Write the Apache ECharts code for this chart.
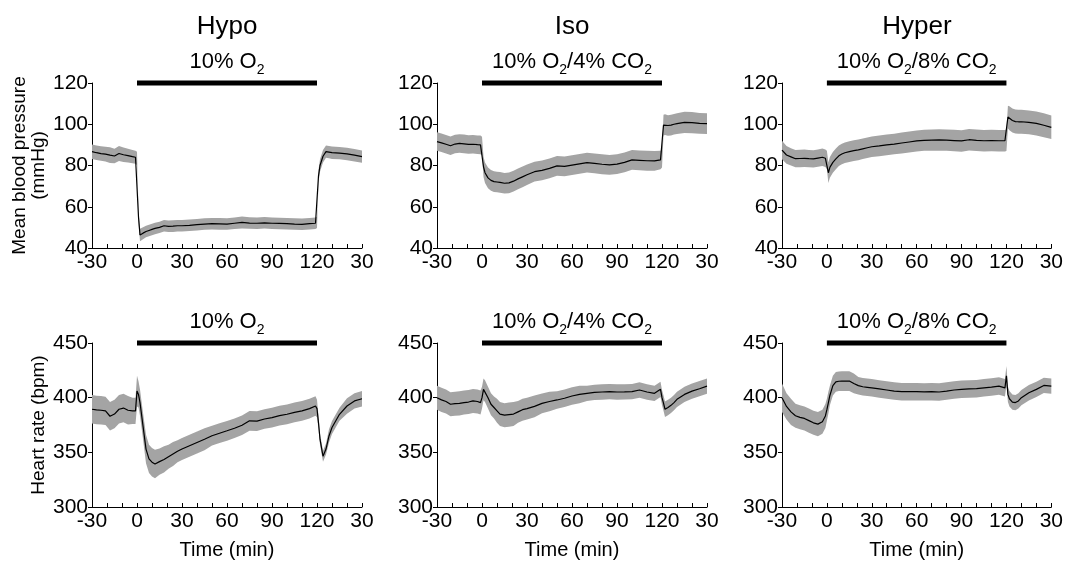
<!DOCTYPE html>
<html>
<head>
<meta charset="utf-8">
<script src="https://cdn.jsdelivr.net/npm/echarts@6/dist/echarts.min.js"></script>
<style>
html,body{margin:0;padding:0;background:#fff}
#main{width:1066px;height:561px}
</style>
</head>
<body>
<div id="main"></div>
<script>
/* time (min) relative to start of gas exposure; 121..150 shown as recovery 0..30 */
var times = [-30,-27,-24,-21,-18,-15,-12,-9,-6,-3,-1,0,1,2,
    4,6,8,10,12,15,18,21,24,27,30,
    35,40,45,50,55,60,65,70,75,80,85,90,95,100,105,110,115,
    119,120,121,122,124,126,128,130,135,140,145,150];

/* mean blood pressure (mmHg) */
var mbpHypo = [86.7,86.2,85.8,85.5,85.0,84.6,85.8,85.2,84.8,84.3,84.0,83.5,55.0,46.3,
    47.2,48.0,48.5,49.0,49.5,50.0,50.8,50.5,50.6,50.8,50.8,
    51.0,51.3,51.6,51.8,51.7,51.6,52.0,52.4,52.1,52.0,52.2,52.0,51.9,51.8,51.6,51.5,51.8,
    52.0,52.5,75.0,80.0,84.5,86.7,86.5,86.2,86.0,85.6,85.0,84.3];
var mbpHypoSem = [3.5,3.5,3.5,3.6,3.8,3.5,3.6,3.5,3.3,3.2,3.2,3.2,3.0,3.0,
    2.9,2.8,2.8,2.8,2.8,2.7,2.8,2.8,2.8,2.8,2.8,
    2.8,2.8,2.8,2.8,2.8,2.8,2.8,2.9,2.8,2.8,2.8,2.8,2.8,2.8,2.8,2.8,2.8,
    2.8,2.8,3.0,3.0,3.0,3.0,3.0,3.0,3.0,3.0,3.0,3.0];

var mbpIso = [91.6,91.0,90.3,89.6,90.4,90.7,90.5,90.2,90.3,90.1,90.0,89.5,79.4,76.5,
    74.0,72.8,72.2,72.0,71.8,71.4,71.6,72.4,73.5,74.5,75.5,
    77.0,77.6,78.6,79.8,79.6,80.2,80.8,81.4,81.0,80.6,80.3,80.7,81.5,82.7,82.5,82.3,82.2,
    82.7,83.5,99.6,99.8,99.4,99.6,100.0,100.3,100.9,100.8,100.4,100.3];
var mbpIsoSem = [4.5,4.5,4.5,4.5,4.5,4.5,4.5,4.5,4.5,4.5,4.5,4.5,5.0,5.0,
    5.0,5.0,5.0,5.0,5.0,5.0,5.0,5.0,5.0,5.0,5.0,
    4.8,4.8,4.8,4.8,4.8,4.8,4.8,4.8,4.8,4.8,4.8,4.8,4.8,4.8,4.8,4.8,4.8,
    4.5,4.5,5.0,5.0,5.0,5.0,5.0,5.0,5.2,5.2,5.0,5.0];

var mbpHyper = [87.5,85.1,84.2,83.3,83.4,83.5,83.3,83.2,83.6,84.0,83.5,82.7,76.5,79.1,
    81.5,83.2,84.7,85.6,86.2,86.7,87.2,87.6,88.1,88.6,89.1,
    89.5,90.0,90.4,90.9,91.4,91.9,92.2,92.3,92.4,92.3,92.1,91.9,92.5,92.2,92.0,92.1,92.0,
    92.0,92.2,103.5,102.9,101.8,101.3,101.2,101.2,100.9,100.4,99.5,98.5];
var mbpHyperSem = [4.5,4.3,4.2,4.2,4.2,4.2,4.2,4.2,4.2,4.2,4.2,4.5,5.0,5.0,
    5.0,5.0,5.0,5.0,5.0,5.0,5.0,5.0,5.0,5.0,5.0,
    5.0,5.0,5.0,5.1,5.1,5.1,5.1,5.1,5.2,5.2,5.2,5.2,5.2,5.2,5.2,5.2,5.2,
    5.2,5.2,5.5,5.8,5.8,5.8,5.8,5.8,5.8,5.8,5.8,5.7];

/* heart rate (bpm) */
var hrHypo = [389.4,388.8,388.5,387.9,383.0,385.0,389.4,390.5,388.5,387.9,387.9,406.0,403.0,395.5,
    374.2,353.0,344.0,341.0,339.4,341.5,343.5,346.0,348.5,351.0,353.0,
    356.0,359.0,362.0,365.2,367.5,369.7,372.0,374.8,378.8,378.5,380.5,381.8,383.5,384.8,386.5,387.9,390.0,
    392.4,390.0,377.0,362.0,346.4,353.0,365.0,372.7,384.8,392.4,397.0,399.0];
var hrHypoSem = [13,13,13,13,13,13,13,13,13,12,12,14,12,12,
    12,13,13,13,13,12,12,11,11,10,10,
    10,10,10,9,9,9,9,9,9,9,9,9,9,9,9,9,9,
    9,8,6,5,5,5,6,6,6,7,7,7];

var hrIso = [400.0,398.0,396.5,394.0,394.5,394.8,395.5,396.0,397.0,396.5,395.5,400.0,407.6,406.0,
    400.0,394.0,391.0,388.0,385.0,384.0,384.5,385.0,387.0,389.0,390.0,
    392.0,394.8,396.5,397.9,399.5,401.5,403.0,404.0,404.8,405.2,405.5,405.2,405.3,405.5,407.0,405.2,404.0,
    407.6,400.0,395.0,389.4,391.0,393.0,395.5,398.5,403.0,406.0,408.2,410.6];
var hrIsoSem = [11,11,11,11,11,11,11,11,11,11,11,10,10,10,
    10,10,10,11,11,11,11,11,10,10,10,
    10,9,9,8,8,8,8,7,7,7,7,7,7,7,7,7,7,
    7,7,7,7,7,7,7,7,7,7,7,7];

var hrHyper = [400.0,392.0,387.0,383.5,382.0,381.0,379.0,377.0,375.8,378.0,383.3,389.0,395.5,402.0,
    411.0,414.5,415.0,415.2,415.2,415.2,413.0,411.0,410.0,409.5,409.0,
    408.0,407.0,406.0,405.5,405.5,405.5,405.3,405.5,405.2,406.0,407.0,407.6,408.0,408.2,409.0,409.7,410.6,
    409.0,420.0,403.0,399.0,396.0,395.5,397.0,400.0,404.5,407.6,411.2,410.6];
var hrHyperSem = [13,12,12,11,11,11,11,11,11,11,11,10,10,9,
    9,9,9,9,9,9,9,8,8,8,8,
    8,8,8,8,8,8,8,8,8,8,8,8,8,8,8,8,8,
    8,9,7,7,7,7,7,7,7,7,7,7];

var groupNames = ['Hypo', 'Iso', 'Hyper'];
var gasLabels = ['10% O{s|2}', '10% O{s|2}/4% CO{s|2}', '10% O{s|2}/8% CO{s|2}'];
var exposure = [0, 120];

var FONT = '"Liberation Sans", Arial, sans-serif';

var chart = echarts.init(document.getElementById('main'));

var panels = [
    {mean: mbpHypo, sem: mbpHypoSem, row: 0, col: 0},
    {mean: mbpIso, sem: mbpIsoSem, row: 0, col: 1},
    {mean: mbpHyper, sem: mbpHyperSem, row: 0, col: 2},
    {mean: hrHypo, sem: hrHypoSem, row: 1, col: 0},
    {mean: hrIso, sem: hrIsoSem, row: 1, col: 1},
    {mean: hrHyper, sem: hrHyperSem, row: 1, col: 2}
];

var gridLeft = [92, 437, 782];
var gridTop = [83, 343];

var grids = [], xAxes = [], yAxes = [], series = [], graphics = [];

// band = mean +/- sem, drawn as one polygon through the axis scales
function bandRenderer(mean, sem) {
    return function (params, api) {
        var pts = [];
        for (var k = 0; k < times.length; k++) {
            pts.push(api.coord([times[k], mean[k] + sem[k]]));
        }
        for (var j = times.length - 1; j >= 0; j--) {
            pts.push(api.coord([times[j], mean[j] - sem[j]]));
        }
        return {type: 'polygon', shape: {points: pts}, style: {fill: '#a4a4a4'}};
    };
}

panels.forEach(function (p, i) {
    var yMin = p.row === 0 ? 40 : 300;
    var yMax = p.row === 0 ? 120 : 450;
    var yStep = p.row === 0 ? 20 : 50;

    grids.push({left: gridLeft[p.col], top: gridTop[p.row], width: 270, height: 165});

    xAxes.push({
        type: 'value', gridIndex: i, min: -30, max: 150, interval: 10,
        axisLine: {onZero: false, lineStyle: {color: '#000', width: 1}},
        axisTick: {inside: true, length: 4, lineStyle: {color: '#000'}},
        splitLine: {show: false},
        axisLabel: {
            color: '#000', fontSize: 21, fontFamily: FONT, margin: 4,
            formatter: function (v) {
                if (v % 30 !== 0) return '';
                return v > 120 ? String(v - 120) : String(v);
            }
        },
        name: p.row === 1 ? 'Time (min)' : '',
        nameLocation: 'middle', nameGap: 33,
        nameTextStyle: {color: '#000', fontSize: 20, fontFamily: FONT}
    });

    var yName = '';
    if (p.col === 0) yName = p.row === 0 ? 'Mean blood pressure\n(mmHg)' : 'Heart rate (bpm)';
    yAxes.push({
        type: 'value', gridIndex: i, min: yMin, max: yMax, interval: yStep,
        axisLine: {show: true, onZero: false, lineStyle: {color: '#000', width: 1}},
        axisTick: {show: true, inside: false, length: 4, lineStyle: {color: '#000'}},
        splitLine: {show: false},
        axisLabel: {color: '#000', fontSize: 21, fontFamily: FONT, margin: 4},
        name: yName, nameLocation: 'middle', nameGap: 44, nameRotate: 90,
        nameTextStyle: {color: '#000', fontSize: 19, fontFamily: FONT, lineHeight: 19}
    });

    var line = times.map(function (t, k) { return [t, p.mean[k]]; });

    series.push({
        type: 'custom', xAxisIndex: i, yAxisIndex: i, silent: true,
        data: [[exposure[0], yMin]],
        renderItem: bandRenderer(p.mean, p.sem)
    });
    series.push({
        type: 'line', xAxisIndex: i, yAxisIndex: i,
        data: line, symbol: 'none', silent: true,
        lineStyle: {color: '#000', width: 1.2}
    });
    // exposure bar
    series.push({
        type: 'line', xAxisIndex: i, yAxisIndex: i, clip: false,
        data: [[exposure[0], yMax], [exposure[1], yMax]], symbol: 'none', silent: true,
        lineStyle: {color: '#000', width: 5, cap: 'butt'}
    });
    // gas label above the bar
    series.push({
        type: 'scatter', xAxisIndex: i, yAxisIndex: i, clip: false,
        data: [[(exposure[0] + exposure[1]) / 2, yMax]], symbolSize: 0, silent: true,
        itemStyle: {opacity: 1},
        label: {
            show: true, position: 'top', distance: 6,
            formatter: gasLabels[p.col],
            color: '#000', fontSize: 22, fontFamily: FONT,
            rich: {s: {fontSize: 14, fontFamily: FONT, color: '#000', padding: [17, 0, 0, 0]}}
        }
    });
});

groupNames.forEach(function (name, c) {
    graphics.push({
        type: 'text', x: gridLeft[c] + 135, y: 27,
        style: {
            text: name, font: '26px ' + FONT, fill: '#000',
            textAlign: 'center', textVerticalAlign: 'middle',
            align: 'center', verticalAlign: 'middle'
        }
    });
});

chart.setOption({
    animation: false,
    backgroundColor: '#fff',
    grid: grids,
    xAxis: xAxes,
    yAxis: yAxes,
    series: series,
    graphic: graphics
});
</script>
</body>
</html>
